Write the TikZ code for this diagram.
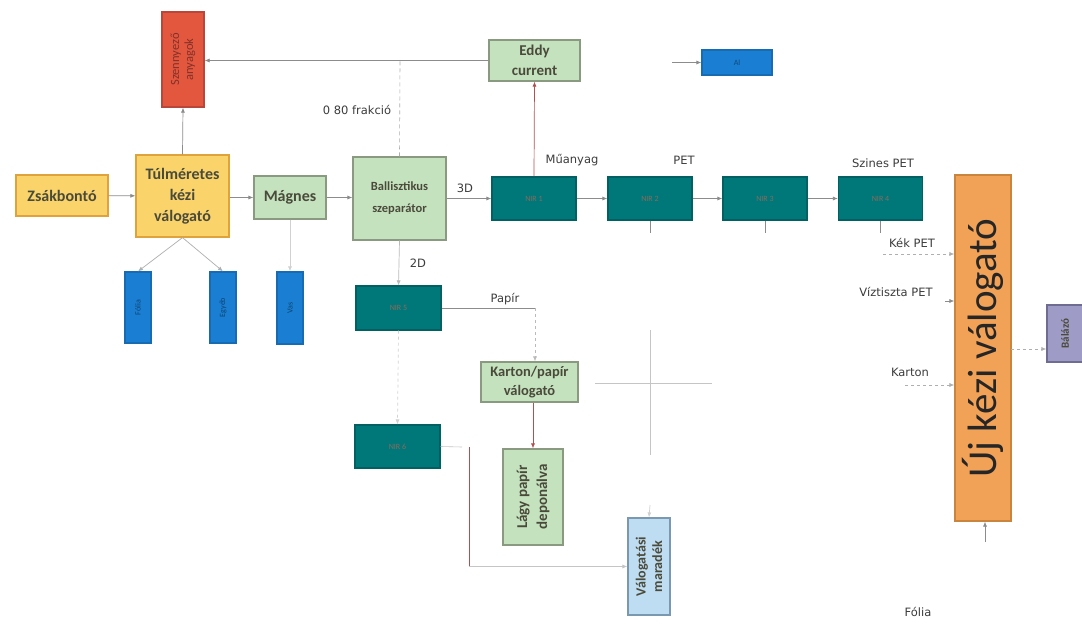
\documentclass[tikz,border=0pt]{standalone}
\usepackage{fontspec}
\setmainfont{Carlito}
\newfontfamily\lblfont{DejaVu Sans}
\usetikzlibrary{arrows.meta}
\definecolor{txt}{HTML}{4A4A3A}
\definecolor{lbl}{HTML}{3C3C3C}
\definecolor{ylwfill}{HTML}{FAD46A}
\definecolor{ylwdraw}{HTML}{E0A23A}
\definecolor{grnfill}{HTML}{C5E2BF}
\definecolor{grndraw}{HTML}{8A9A80}
\definecolor{tealfill}{HTML}{00787A}
\definecolor{tealtxt}{HTML}{8A6A5A}
\definecolor{bluefill}{HTML}{1A7ED2}
\definecolor{redfill}{HTML}{E4573F}
\definecolor{reddraw}{HTML}{B8463A}
\definecolor{orgfill}{HTML}{F2A257}
\definecolor{orgdraw}{HTML}{C9853E}
\definecolor{lavfill}{HTML}{9E9CC6}
\definecolor{lavdraw}{HTML}{6E6C90}
\definecolor{lbfill}{HTML}{BFDDF2}
\definecolor{lbdraw}{HTML}{7A98B0}
\definecolor{conn}{HTML}{8C8C8C}
\definecolor{redconn}{HTML}{B05050}
\tikzset{
  base/.style={rectangle, inner sep=0pt, align=center, line width=1.2pt},
  ylw/.style={base, fill=ylwfill, draw=ylwdraw, text=txt, font=\bfseries\fontsize{16}{21}\selectfont},
  grn/.style={base, fill=grnfill, draw=grndraw, text=txt, font=\bfseries\fontsize{15}{20}\selectfont},
  nir/.style={base, fill=tealfill, draw=tealfill!80!black, text=tealtxt, font=\fontsize{8}{9}\selectfont, minimum width=84pt, minimum height=43pt},
  blu/.style={base, fill=bluefill, draw=bluefill!85!black, text=bluefill!60!black, font=\fontsize{8}{9}\selectfont},
  arr/.style={draw=conn, line width=0.7pt, -{Latex[length=5pt,width=4pt]}},
  dline/.style={draw=conn!70, line width=0.6pt, dash pattern=on 4pt off 3pt},
  faint/.style={draw=conn!50, line width=0.6pt},
  lab/.style={text=lbl, font=\lblfont\fontsize{11.5}{13}\selectfont, inner sep=1pt},
}
\begin{document}
\begin{tikzpicture}[x=1pt,y=-1pt]
\useasboundingbox (0,0) rectangle (1082,624);
\fill[white] (0,0) rectangle (1082,624);

% ---- nodes ----
\node[base, fill=redfill, draw=reddraw, minimum width=42pt, minimum height=95pt] (szeny) at (183,59.5) {};
\node[rotate=90, text=reddraw!70!black, font=\fontsize{12.5}{14}\selectfont, align=center] at (szeny.center) {Szennyező\\anyagok};

\node[grn, minimum width=91pt, minimum height=41pt] (eddy) at (534.5,60.5) {Eddy\\current};
\node[blu, minimum width=70pt, minimum height=25pt] (al) at (737,62.5) {Al};

\node[ylw, minimum width=92pt, minimum height=41pt] (zsak) at (62,195.5) {Zsákbontó};
\node[ylw, minimum width=93pt, minimum height=82pt] (tulm) at (182.5,196) {Túlméretes\\kézi\\válogató};
\node[grn, minimum width=72pt, minimum height=43pt, font=\bfseries\fontsize{16}{20}\selectfont] (magnes) at (290,197.5) {Mágnes};
\node[grn, minimum width=93pt, minimum height=83pt, font=\bfseries\fontsize{12.5}{22}\selectfont] (ball) at (399.5,198.5) {Ballisztikus\\szeparátor};

\node[nir] (nir1) at (534,198.5) {NIR 1};
\node[nir] (nir2) at (650,198.5) {NIR 2};
\node[nir] (nir3) at (765,198.5) {NIR 3};
\node[nir] (nir4) at (880.5,198.5) {NIR 4};

\node[base, fill=orgfill, draw=orgdraw, minimum width=56pt, minimum height=346pt] (uj) at (983,348) {};
\node[rotate=90, text=black!85, font=\fontsize{41}{44}\selectfont] at (uj.center) {Új kézi válogató};

\node[base, fill=lavfill, draw=lavdraw, minimum width=36pt, minimum height=57pt] (bal) at (1065,333.5) {};
\node[rotate=90, text=txt, font=\bfseries\fontsize{11}{12}\selectfont] at (bal.center) {Bálázó};

\node[blu, minimum width=26pt, minimum height=71pt] (b1) at (138,307.5) {};
\node[rotate=90, text=bluefill!55!black, font=\fontsize{8}{9}\selectfont] at (b1.center) {Fólia};
\node[blu, minimum width=26pt, minimum height=71pt] (b2) at (223,307.5) {};
\node[rotate=90, text=bluefill!55!black, font=\fontsize{8}{9}\selectfont] at (b2.center) {Egyéb};
\node[blu, minimum width=26pt, minimum height=72pt] (b3) at (290,308) {};
\node[rotate=90, text=bluefill!55!black, font=\fontsize{8}{9}\selectfont] at (b3.center) {Vas};

\node[nir, minimum width=85pt, minimum height=44pt] (nir5) at (398.5,308) {NIR 5};
\node[grn, minimum width=97pt, minimum height=40pt, font=\bfseries\fontsize{14.5}{19}\selectfont] (karton) at (529.5,382) {Karton/papír\\válogató};
\node[nir, minimum width=85pt, minimum height=43pt] (nir6) at (397.5,446.5) {NIR 6};

\node[base, fill=grnfill, draw=grndraw, minimum width=60pt, minimum height=96pt] (lagy) at (533,497) {};
\node[rotate=90, text=txt, font=\bfseries\fontsize{15}{20}\selectfont, align=center] at (lagy.center) {Lágy papír\\deponálva};

\node[base, fill=lbfill, draw=lbdraw, minimum width=42pt, minimum height=97pt] (valog) at (649,566.5) {};
\node[rotate=90, text=txt, font=\bfseries\fontsize{14}{16.5}\selectfont, align=center] at (valog.center) {Válogatási\\maradék};

% ---- labels ----
\node[lab] (l080) at (357,110) {0 80 frakció};
\node[lab] (lmu) at (572,160) {Műanyag};
\node[lab] (lpet) at (684,160) {PET};
\node[lab] (lszpet) at (883,163) {Szines PET};
\node[lab] (l3d) at (465,188) {3D};
\node[lab] (l2d) at (418,263) {2D};
\node[lab] (lpap) at (505,299) {Papír};
\node[lab] (lkek) at (912,243) {Kék PET};
\node[lab] (lviz) at (896,292) {Víztiszta PET};
\node[lab] (lkar) at (910,372) {Karton};
\node[lab] (lfol) at (918,612) {Fólia};

% ---- coordinates ----
\coordinate (j1) at (400,61);
\coordinate (alin) at (672,62.5);
\coordinate (pap) at (535,308);
\coordinate (kekin) at (883,254);
\coordinate (vizin) at (945,301);
\coordinate (karin) at (905,385);
\coordinate (fin) at (985,542);
\coordinate (cx1) at (595,383);
\coordinate (cx2) at (712,383);
\coordinate (cy1) at (650,330);
\coordinate (cy2) at (650,455);
\coordinate (vin) at (650,505);
\coordinate (r1) at (469,447);
\coordinate (r2) at (469,566.5);
\coordinate (n6o) at (462,447);
\coordinate (bl) at (1011,349);

% ---- connectors ----
\draw[arr] (zsak) -- (tulm);
\draw[arr] (tulm.east |- magnes) -- (magnes);
\draw[arr] (magnes) -- (ball.west |- magnes);
\draw[arr] (ball) -- (nir1);
\draw[arr] (nir1) -- (nir2);
\draw[arr] (nir2) -- (nir3);
\draw[arr] (nir3) -- (nir4);
\draw[arr, draw=redconn] (nir1.north) -- (eddy.south);
\draw[arr] (alin) -- (al);
\draw[dline] (ball.north) -- (j1);
\draw[arr] (eddy.west) -- (eddy.west -| szeny.east);
\draw[arr] (tulm.north) -- (szeny.south);
\draw[arr, draw=conn!70] (tulm.south) -- (b1.north);
\draw[arr, draw=conn!70] (tulm.south) -- (b2.north);
\draw[arr, draw=conn!40] (magnes.south) -- (b3.north);
\draw[arr, draw=conn!60] (ball.south) -- (nir5.north);
\draw[draw=conn, line width=0.8pt] (nir5.east) -- (pap);
\draw[arr, dashed, draw=conn!60] (pap) -- (karton.north -| pap);
\draw[arr, dashed, draw=conn!40] (nir5.south) -- (nir6.north);
\draw[arr, draw=redconn] (karton.south -| lagy.north) -- (lagy.north);
\draw[faint] (cx1) -- (cx2);
\draw[faint] (cy1) -- (cy2);
\draw[arr, draw=conn!40] (vin) -- (valog.north);
\draw[draw=redconn, line width=0.8pt] (r1) -- (r2);
\draw[arr, draw=conn!50] (r2) -- (valog.west);
\draw[faint] (nir6.east) -- (n6o);
\draw[draw=conn, line width=0.6pt] (nir2.south) -- ++(0,12);
\draw[draw=conn, line width=0.6pt] (nir3.south) -- ++(0,12);
\draw[draw=conn, line width=0.6pt] (nir4.south) -- ++(0,12);
\draw[arr, dashed, draw=conn!70] (kekin) -- (kekin -| uj.west);
\draw[arr] (vizin) -- (vizin -| uj.west);
\draw[arr, dashed, draw=conn!70] (karin) -- (karin -| uj.west);
\draw[arr] (fin) -- (fin |- uj.south);
\draw[arr, dashed, draw=conn!70] (bl) -- (bl -| bal.west);
\end{tikzpicture}
\end{document}
